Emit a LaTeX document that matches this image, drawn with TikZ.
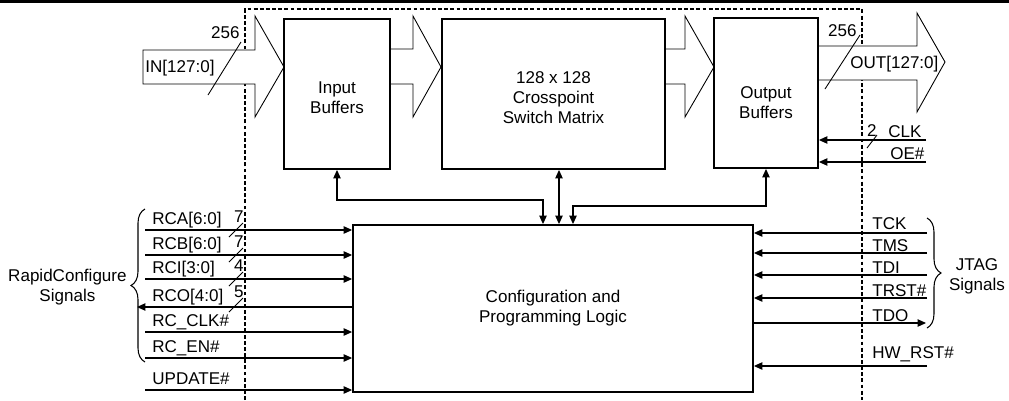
\documentclass[tikz,border=0pt]{standalone}
\usepackage{fontspec}
\setmainfont{Liberation Sans}
\usetikzlibrary{arrows.meta, positioning, calc, decorations.pathreplacing}

\begin{document}
\begin{tikzpicture}[
        x=0.02cm, y=-0.02cm,
        font=\fontsize{9.7}{11.3}\selectfont,
        block/.style={rectangle, draw, line width=1.1pt, fill=white, inner sep=0pt, align=center, minimum height=3cm},
        bus/.style={draw, line width=0.5pt, fill=white, line join=miter},
        sig/.style={line width=0.6pt, -{Triangle[length=0.17cm, width=0.15cm]}},
        dsig/.style={line width=0.6pt, {Triangle[length=0.17cm, width=0.15cm]}-{Triangle[length=0.17cm, width=0.15cm]}},
        slash/.style={line width=0.5pt},
        lbl/.style={anchor=base west, inner sep=0pt},
        num/.style={anchor=base east, inner sep=0pt},
        brc/.style={decorate, decoration={brace, amplitude=0.28cm}, line width=0.6pt}
    ]
        \useasboundingbox (0,0) rectangle (1009,400);

        % rule and device outline
        \draw[line width=1.7pt] (0,1.5) -- (1009,1.5);
        \draw[dash pattern=on 2.2pt off 1.3pt, line width=0.65pt] (245,400) -- (245,9) -- (862,9) -- (862,400);

        % data path buses
        \draw[bus] (143,50) -- (255,50) -- (255,16) -- (284,67) -- (255,117) -- (255,84) -- (143,84) -- cycle;
        \draw[bus] (390,49) -- (413,49) -- (413,16) -- (441,67) -- (413,117) -- (413,84) -- (390,84);
        \draw[bus] (665,49) -- (685,49) -- (685,16) -- (714,67) -- (685,117) -- (685,84) -- (665,84);
        \draw[bus] (818,46) -- (917,46) -- (917,13) -- (945,62) -- (917,112) -- (917,80) -- (818,80);

        \node[lbl] (inlbl)  at (145,72) {IN[127:0]};
        \draw[slash] (208,95) -- (241,42);
        \node[num] (inw)    at (240,38) {256};
        \node[lbl] (outlbl) at (850,68) {OUT[127:0]};
        \draw[slash] (825,89) -- (860,35);
        \node[num] (outw)   at (857,36) {256};

        % blocks
        \node[block, minimum width=2.12cm] (inbuf)  at (337,94)    {};
        \node[align=center] (intxt) at ([yshift=-0.07cm]inbuf.center) {Input\\Buffers};
        \node[block, minimum width=4.46cm] (xbar)   at (553.5,94)  {};
        \node[align=center] (xtxt) at ([yshift=-0.07cm]xbar.center) {128 x 128\\Crosspoint\\Switch Matrix};
        \node[block, minimum width=2.08cm] (outbuf) at (766,93)    {};
        \node[align=center] (outtxt) at ([yshift=-0.19cm]outbuf.center) {Output\\Buffers};
        \node[block, minimum width=8cm, minimum height=3.34cm] (cfg) at (553,308.5) {Configuration and\\Programming Logic};

        % control links between blocks
        \coordinate (jl) at (543,200);
        \coordinate (jm) at (559,190);
        \coordinate (jr) at (573,206);
        \draw[dsig] (inbuf.south) |- (jl) -- (jl |- cfg.north);
        \draw[dsig] (jm |- xbar.south) -- (jm |- cfg.north);
        \draw[dsig] (outbuf.south) |- (jr) -- (jr |- cfg.north);

        % output buffer controls
        \coordinate (oclk) at (926,140);
        \coordinate (ooe)  at (926,162);
        \draw[sig] (oclk) -- (oclk -| outbuf.east);
        \draw[sig] (ooe)  -- (ooe -| outbuf.east);
        \node[lbl] (tclk) at (888,137) {CLK};
        \node[lbl] (toe)  at (890,159) {OE\#};
        \draw[slash] (867,148) -- (877,135);
        \node[num] (wclk) at (877,136) {2};

        % RapidConfigure side
        \foreach \n/\y/\t in {a/230/{RCA[6:0]}, b/255/{RCB[6:0]}, c/279/{RCI[3:0]}, e/332/{RC\_CLK\#}, f/358/{RC\_EN\#}, g/390/{UPDATE\#}} {
            \coordinate (l\n) at (145,\y);
            \draw[sig] (l\n) -- (l\n -| cfg.west);
            \node[lbl] (t\n) at (152,\y-6) {\t};
        }
        \coordinate (ld) at (137,307);
        \draw[sig] (ld -| cfg.west) -- (ld);
        \node[lbl] (td) at (152,301) {RCO[4:0]};

        \foreach \y/\w in {230/7, 255/7, 279/4, 305/5} {
            \draw[slash] (229,\y+7) -- (243,\y-7);
            \node[num] at (244,\y-8) {\w};
        }

        \coordinate (rcbot) at (145,362);
        \coordinate (rctop) at (145,209);
        \draw[brc] (rcbot) -- (rctop);
        \node[align=center, anchor=east, inner sep=0pt] (rclbl) at (127,287) {RapidConfigure\\Signals};

        % JTAG side
        \foreach \n/\y/\b/\t in {tck/233/229/TCK, tms/253/251/TMS, tdi/275/273/TDI, trst/298/296/{TRST\#}, hw/366/358/{HW\_RST\#}} {
            \coordinate (r\n) at (927,\y);
            \draw[sig] (r\n) -- (r\n -| cfg.east);
            \node[lbl] (t\n) at (872,\b) {\t};
        }
        \coordinate (rtdo) at (926,323);
        \draw[sig] (rtdo -| cfg.east) -- (rtdo);
        \node[lbl] (ttdo) at (872,321) {TDO};

        \coordinate (jtop) at (927,218);
        \coordinate (jbot) at (927,328);
        \draw[brc] (jtop) -- (jbot);
        \node[align=center] (jlbl) at (977,276) {JTAG\\Signals};
    \end{tikzpicture}
\end{document}
